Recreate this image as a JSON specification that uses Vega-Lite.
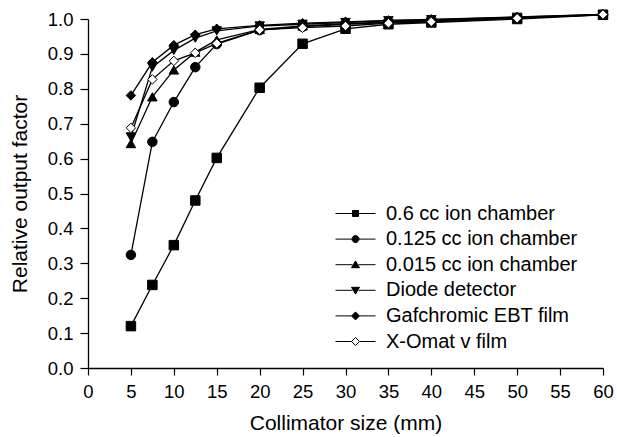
{
  "$schema": "https://vega.github.io/schema/vega-lite/v6.json",
  "width": 515,
  "height": 349,
  "autosize": "none",
  "padding": {"left": 88, "top": 19, "right": 14, "bottom": 69},
  "background": "white",
  "config": {
    "view": {"stroke": null},
    "font": "Liberation Sans",
    "axis": {
      "grid": false,
      "domainColor": "black",
      "domainWidth": 1.3,
      "tickColor": "black",
      "tickWidth": 1.2,
      "labelColor": "black",
      "labelFontSize": 18.5,
      "labelFont": "Liberation Sans",
      "titleFont": "Liberation Sans",
      "titleFontSize": 21,
      "titleFontWeight": "normal",
      "titleColor": "black",
      "labelFlush": false,
      "labelOverlap": false
    },
    "legend": {
      "labelFont": "Liberation Sans",
      "labelFontSize": 20,
      "labelColor": "black",
      "labelLimit": 0,
      "padding": 0,
      "title": null,
      "orient": "none",
      "legendX": 257,
      "legendY": 184,
      "symbolSize": 400,
      "symbolStrokeWidth": 1,
      "labelOffset": 20,
      "rowPadding": 4.6
    }
  },
  "data": {
    "values": [
      {"series": "0.6 cc ion chamber", "x": 5, "y": 0.12},
      {"series": "0.6 cc ion chamber", "x": 7.5, "y": 0.238},
      {"series": "0.6 cc ion chamber", "x": 10, "y": 0.352},
      {"series": "0.6 cc ion chamber", "x": 12.5, "y": 0.48},
      {"series": "0.6 cc ion chamber", "x": 15, "y": 0.602},
      {"series": "0.6 cc ion chamber", "x": 20, "y": 0.803},
      {"series": "0.6 cc ion chamber", "x": 25, "y": 0.929},
      {"series": "0.6 cc ion chamber", "x": 30, "y": 0.972},
      {"series": "0.6 cc ion chamber", "x": 35, "y": 0.985},
      {"series": "0.6 cc ion chamber", "x": 40, "y": 0.99},
      {"series": "0.6 cc ion chamber", "x": 50, "y": 1.0},
      {"series": "0.6 cc ion chamber", "x": 60, "y": 1.012},
      {"series": "0.125 cc ion chamber", "x": 5, "y": 0.324},
      {"series": "0.125 cc ion chamber", "x": 7.5, "y": 0.648},
      {"series": "0.125 cc ion chamber", "x": 10, "y": 0.762},
      {"series": "0.125 cc ion chamber", "x": 12.5, "y": 0.862},
      {"series": "0.125 cc ion chamber", "x": 15, "y": 0.928},
      {"series": "0.125 cc ion chamber", "x": 20, "y": 0.968},
      {"series": "0.125 cc ion chamber", "x": 25, "y": 0.978},
      {"series": "0.125 cc ion chamber", "x": 30, "y": 0.985},
      {"series": "0.125 cc ion chamber", "x": 35, "y": 0.99},
      {"series": "0.125 cc ion chamber", "x": 40, "y": 0.995},
      {"series": "0.125 cc ion chamber", "x": 50, "y": 1.003},
      {"series": "0.125 cc ion chamber", "x": 60, "y": 1.012},
      {"series": "0.015 cc ion chamber", "x": 5, "y": 0.643},
      {"series": "0.015 cc ion chamber", "x": 7.5, "y": 0.777},
      {"series": "0.015 cc ion chamber", "x": 10, "y": 0.854},
      {"series": "0.015 cc ion chamber", "x": 12.5, "y": 0.905},
      {"series": "0.015 cc ion chamber", "x": 15, "y": 0.94},
      {"series": "0.015 cc ion chamber", "x": 20, "y": 0.97},
      {"series": "0.015 cc ion chamber", "x": 25, "y": 0.98},
      {"series": "0.015 cc ion chamber", "x": 30, "y": 0.987},
      {"series": "0.015 cc ion chamber", "x": 35, "y": 0.992},
      {"series": "0.015 cc ion chamber", "x": 40, "y": 0.996},
      {"series": "0.015 cc ion chamber", "x": 50, "y": 1.004},
      {"series": "0.015 cc ion chamber", "x": 60, "y": 1.012},
      {"series": "Diode detector", "x": 5, "y": 0.662},
      {"series": "Diode detector", "x": 7.5, "y": 0.862},
      {"series": "Diode detector", "x": 10, "y": 0.91},
      {"series": "Diode detector", "x": 12.5, "y": 0.945},
      {"series": "Diode detector", "x": 15, "y": 0.966},
      {"series": "Diode detector", "x": 20, "y": 0.98},
      {"series": "Diode detector", "x": 25, "y": 0.985},
      {"series": "Diode detector", "x": 30, "y": 0.99},
      {"series": "Diode detector", "x": 35, "y": 0.995},
      {"series": "Diode detector", "x": 40, "y": 0.998},
      {"series": "Diode detector", "x": 50, "y": 1.005},
      {"series": "Diode detector", "x": 60, "y": 1.013},
      {"series": "Gafchromic EBT film", "x": 5, "y": 0.781},
      {"series": "Gafchromic EBT film", "x": 7.5, "y": 0.876},
      {"series": "Gafchromic EBT film", "x": 10, "y": 0.925},
      {"series": "Gafchromic EBT film", "x": 12.5, "y": 0.955},
      {"series": "Gafchromic EBT film", "x": 15, "y": 0.972},
      {"series": "Gafchromic EBT film", "x": 20, "y": 0.982},
      {"series": "Gafchromic EBT film", "x": 25, "y": 0.988},
      {"series": "Gafchromic EBT film", "x": 30, "y": 0.992},
      {"series": "Gafchromic EBT film", "x": 35, "y": 0.996},
      {"series": "Gafchromic EBT film", "x": 40, "y": 0.999},
      {"series": "Gafchromic EBT film", "x": 50, "y": 1.006},
      {"series": "Gafchromic EBT film", "x": 60, "y": 1.013},
      {"series": "X-Omat v film", "x": 5, "y": 0.688},
      {"series": "X-Omat v film", "x": 7.5, "y": 0.827},
      {"series": "X-Omat v film", "x": 10, "y": 0.88},
      {"series": "X-Omat v film", "x": 12.5, "y": 0.903},
      {"series": "X-Omat v film", "x": 15, "y": 0.93},
      {"series": "X-Omat v film", "x": 20, "y": 0.969},
      {"series": "X-Omat v film", "x": 25, "y": 0.975},
      {"series": "X-Omat v film", "x": 30, "y": 0.98},
      {"series": "X-Omat v film", "x": 35, "y": 0.988},
      {"series": "X-Omat v film", "x": 40, "y": 0.992},
      {"series": "X-Omat v film", "x": 50, "y": 1.002},
      {"series": "X-Omat v film", "x": 60, "y": 1.013}
    ]
  },
  "encoding": {
    "x": {
      "field": "x",
      "type": "quantitative",
      "scale": {"domain": [0, 60], "nice": false},
      "axis": {
        "title": "Collimator size (mm)",
        "values": [0, 5, 10, 15, 20, 25, 30, 35, 40, 45, 50, 55, 60],
        "format": "d",
        "tickSize": 7,
        "labelPadding": 7,
        "titlePadding": 12
      }
    },
    "y": {
      "field": "y",
      "type": "quantitative",
      "scale": {"domain": [0, 1], "nice": false},
      "axis": {
        "title": "Relative output factor",
        "values": [0, 0.1, 0.2, 0.3, 0.4, 0.5, 0.6, 0.7, 0.8, 0.9, 1.0],
        "format": ".1f",
        "tickSize": 8,
        "labelPadding": 7,
        "titlePadding": 17
      }
    }
  },
  "layer": [
    {
      "mark": {"type": "line", "color": "black", "strokeWidth": 1.3, "clip": false},
      "encoding": {
        "detail": {"field": "series"},
        "order": {"field": "x", "type": "quantitative"}
      }
    },
    {
      "mark": {"type": "point", "filled": true, "stroke": "black", "strokeWidth": 1, "size": 90, "opacity": 1, "clip": false},
      "encoding": {
        "shape": {
          "field": "series",
          "type": "nominal",
          "scale": {
            "domain": ["0.6 cc ion chamber", "0.125 cc ion chamber", "0.015 cc ion chamber", "Diode detector", "Gafchromic EBT film", "X-Omat v film"],
            "range": ["square", "circle", "triangle-up", "triangle-down", "diamond", "diamond"]
          },
          "legend": null
        },
        "fill": {
          "field": "series",
          "type": "nominal",
          "scale": {
            "domain": ["0.6 cc ion chamber", "0.125 cc ion chamber", "0.015 cc ion chamber", "Diode detector", "Gafchromic EBT film", "X-Omat v film"],
            "range": ["black", "black", "black", "black", "black", "white"]
          },
          "legend": null
        }
      }
    },
    {
      "transform": [{"filter": "false"}],
      "mark": {"type": "point", "filled": true, "strokeWidth": 1, "opacity": 1},
      "encoding": {
        "shape": {
          "field": "series",
          "type": "nominal",
          "scale": {
            "domain": ["0.6 cc ion chamber", "0.125 cc ion chamber", "0.015 cc ion chamber", "Diode detector", "Gafchromic EBT film", "X-Omat v film"],
            "range": [
              "M-2,0H-0.3M0.3,0H2M-0.3,-0.3H0.3V0.3H-0.3Z",
              "M-2,0H-0.35M0.35,0H2M0.35,0A0.35,0.35,0,1,1,-0.35,0A0.35,0.35,0,1,1,0.35,0Z",
              "M-2,0H-0.3M0.3,0H2M0,-0.38L0.4,0.3H-0.4Z",
              "M-2,0H-0.3M0.3,0H2M0,0.38L0.4,-0.3H-0.4Z",
              "M-2,0H-0.4M0.4,0H2M0,-0.4L0.4,0L0,0.4L-0.4,0Z",
              "M-2,0H-0.4M0.4,0H2M0,-0.4L0.4,0L0,0.4L-0.4,0Z"
            ]
          }
        },
        "fill": {
          "field": "series",
          "type": "nominal",
          "scale": {
            "domain": ["0.6 cc ion chamber", "0.125 cc ion chamber", "0.015 cc ion chamber", "Diode detector", "Gafchromic EBT film", "X-Omat v film"],
            "range": ["black", "black", "black", "black", "black", "white"]
          }
        },
        "stroke": {
          "field": "series",
          "type": "nominal",
          "scale": {
            "domain": ["0.6 cc ion chamber", "0.125 cc ion chamber", "0.015 cc ion chamber", "Diode detector", "Gafchromic EBT film", "X-Omat v film"],
            "range": ["black", "black", "black", "black", "black", "black"]
          }
        }
      }
    }
  ],
  "resolve": {"scale": {"shape": "independent", "fill": "independent", "stroke": "independent"}}
}
